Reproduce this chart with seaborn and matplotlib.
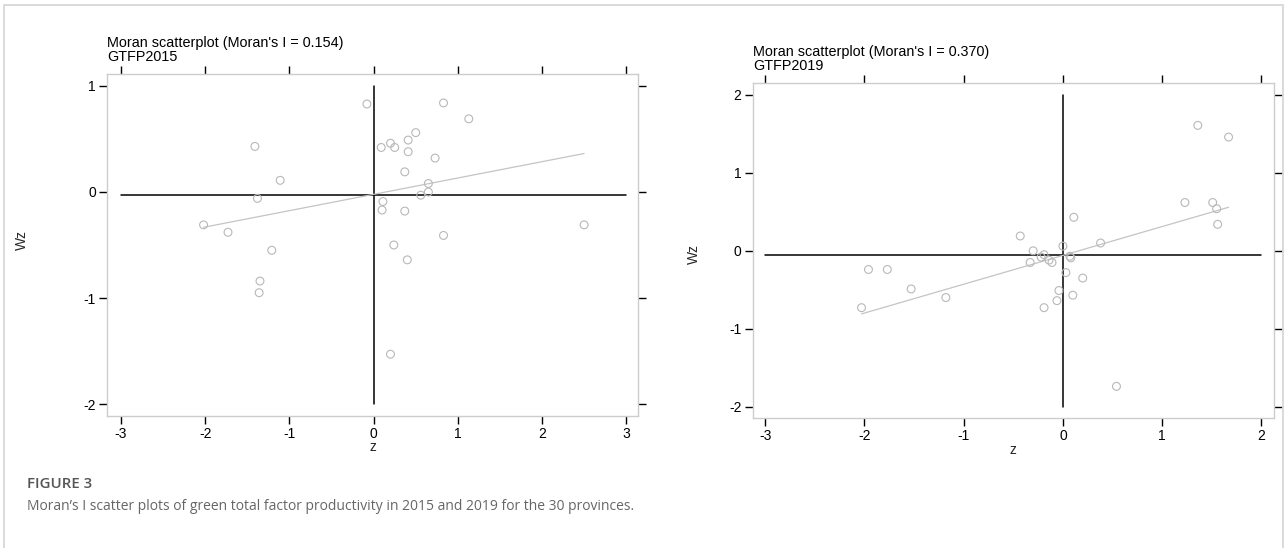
import numpy as np
import matplotlib
matplotlib.use("Agg")
import matplotlib.pyplot as plt
from matplotlib.patches import Rectangle
import seaborn as sns

# ---- data ----
z_2015 = [-0.08, -1.41, -1.11, -1.38, -2.02, -1.73, -1.21, -1.35, -1.36,
          0.83, 1.13, 0.50, 0.41, 0.20, 0.09, 0.25, 0.41, 0.73, 0.37, 0.65,
          0.65, 0.56, 0.11, 0.10, 0.37, 2.50, 0.83, 0.24, 0.40, 0.20]
wz_2015 = [0.83, 0.43, 0.11, -0.06, -0.31, -0.38, -0.55, -0.84, -0.95,
           0.84, 0.69, 0.56, 0.49, 0.46, 0.42, 0.42, 0.38, 0.32, 0.19, 0.08,
           0.00, -0.03, -0.09, -0.17, -0.18, -0.31, -0.41, -0.50, -0.64, -1.53]

z_2019 = [1.36, 1.67, 1.23, 1.51, 1.55, 1.56,
          0.11, -0.43, 0.38, 0.00, -0.30, -0.19, -0.22, -0.14, -0.11, -0.33,
          0.07, 0.08, 0.03, 0.20, -0.04, 0.10, -0.06, -0.19, 0.54,
          -1.96, -1.77, -1.53, -1.18, -2.03]
wz_2019 = [1.61, 1.46, 0.62, 0.62, 0.54, 0.34,
           0.43, 0.19, 0.10, 0.06, 0.00, -0.05, -0.08, -0.12, -0.15, -0.15,
           -0.07, -0.09, -0.28, -0.35, -0.51, -0.57, -0.64, -0.73, -1.74,
           -0.24, -0.24, -0.49, -0.60, -0.73]

morans_i = [0.154, 0.370]
intercepts = [-0.022, -0.059]
hline_y = [-0.03, -0.06]
titles = ["Moran scatterplot (Moran's I = 0.154)\nGTFP2015",
          "Moran scatterplot (Moran's I = 0.370)\nGTFP2019"]
x_ticks = [[-3, -2, -1, 0, 1, 2, 3], [-3, -2, -1, 0, 1, 2]]
y_ticks = [[-2, -1, 0, 1], [-2, -1, 0, 1, 2]]
x_lims = [(-3.167, 3.14), (-3.127, 2.128)]
y_lims = [(-2.113, 1.113), (-2.15, 2.15)]
caption_head = "FIGURE 3"
caption_text = ("Moran\u2019s I scatter plots of green total factor productivity "
                "in 2015 and 2019 for the 30 provinces.")

# ---- style ----
sns.set_style("white")
plt.rcParams["font.family"] = ["Liberation Sans", "DejaVu Sans"]

W, H = 1287, 548
fig = plt.figure(figsize=(W / 100, H / 100), dpi=100)
fig.patch.set_facecolor("white")

ax_rects = [[107 / W, 1 - 416 / H, (638 - 107) / W, (416 - 74) / H],
            [752.7 / W, 1 - 418.3 / H, (1274 - 752.7) / W, (418.3 - 83.3) / H]]
title_pos = [(107 / W, 1 - 36 / H), (753 / W, 1 - 45 / H)]
ylabel_pos = [(22 / W, 1 - 240 / H), (694 / W, 1 - 254 / H)]
xlabel_pos = [(372.5 / W, 1 - 440 / H), (1013 / W, 1 - 443 / H)]

data = [(z_2015, wz_2015), (z_2019, wz_2019)]

for i in range(2):
    ax = fig.add_axes(ax_rects[i])
    z, wz = data[i]
    xt, yt = x_ticks[i], y_ticks[i]
    # reference lines
    ax.plot([xt[0], xt[-1]], [hline_y[i], hline_y[i]], color="black", lw=1.1, zorder=1)
    ax.plot([0, 0], [yt[0], yt[-1]], color="black", lw=1.1, zorder=1)
    # fitted line
    xs = np.array([min(z), max(z)])
    ax.plot(xs, intercepts[i] + morans_i[i] * xs, color="#c4c4c4", lw=0.9, zorder=2)
    # points
    sns.scatterplot(x=z, y=wz, ax=ax, s=32, marker="o", facecolor="none",
                    edgecolor="#b8b8b8", linewidth=0.8, zorder=3)
    ax.set_xlim(*x_lims[i])
    ax.set_ylim(*y_lims[i])
    ax.set_xticks(xt)
    ax.set_yticks(yt)
    ax.set_xticklabels([str(v) for v in xt])
    ax.set_yticklabels([str(v) for v in yt])
    ax.tick_params(which="both", direction="out", length=6, width=1, color="black",
                   top=True, right=True, bottom=True, left=True,
                   labeltop=False, labelright=False, labelsize=10, pad=2,
                   labelcolor="black")
    for sp in ax.spines.values():
        sp.set_color("#cccccc")
        sp.set_linewidth(1)
    ax.set_xlabel("")
    ax.set_ylabel("")
    fig.text(*title_pos[i], titles[i], ha="left", va="top", fontsize=10.4,
             linespacing=1.0, color="black")
    fig.text(*ylabel_pos[i], "Wz", rotation=90, ha="center", va="center", fontsize=10)
    fig.text(*xlabel_pos[i], "z", ha="center", va="top", fontsize=10)

# figure frame
fig.patches.append(Rectangle((4 / W, -0.02), (1283 - 4) / W, 1 - 5 / H + 0.02,
                             transform=fig.transFigure, fill=False,
                             edgecolor="#d4d4d4", lw=1.2))

fig.text(27 / W, 1 - 477 / H, caption_head, ha="left", va="top", fontsize=10.8,
         fontweight="semibold", color="#555555", family=["Open Sans", "DejaVu Sans"])
fig.text(27 / W, 1 - 499 / H, caption_text, ha="left", va="top", fontsize=10,
         color="#666666", family=["Open Sans", "DejaVu Sans"])

fig.savefig("out.png", dpi=100, facecolor="white")
